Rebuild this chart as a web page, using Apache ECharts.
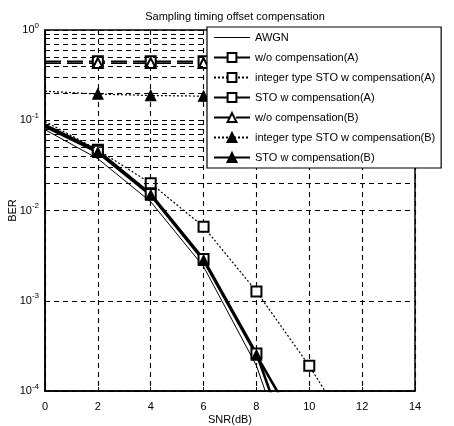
<!DOCTYPE html>
<html>
<head>
<meta charset="utf-8">
<script src="https://cdn.jsdelivr.net/npm/echarts@6/dist/echarts.min.js"></script>
<style>html,body{margin:0;padding:0;background:#fff;}#c{width:454px;height:426px;}</style>
</head>
<body>
<div id="c"></div>
<script>
var titleText = 'Sampling timing offset compensation';
var xTicks = [0, 2, 4, 6, 8, 10, 12, 14];
var snr = [0, 2, 4, 6, 8, 10, 12, 14];
var awgn = [0.0786, 0.0375, 0.0125, 0.00239, 0.000191, 0.0000039];
var woCompA = [0.45, 0.45, 0.45, 0.45, 0.45, 0.45, 0.45, 0.45];
var intStoA = [0.097, 0.047, 0.020, 0.0066, 0.00127, 0.00019, 0.000022];
var stoCompA = [0.089, 0.046, 0.0152, 0.0029, 0.00026, 0.000006];
var woCompB = [0.43, 0.43, 0.43, 0.43, 0.43, 0.43, 0.43, 0.43];
var intStoB = [0.21, 0.195, 0.188, 0.185, 0.185, 0.185, 0.185, 0.185];
var stoCompB = [0.085, 0.044, 0.0148, 0.0028, 0.00025, 0.000024];
var minorGrid = [];
[0.0001, 0.001, 0.01, 0.1].forEach(function (d) {
  for (var k = 2; k <= 9; k++) minorGrid.push(d * k);
});

function pts(ys) {
  return ys.map(function (y, i) {
    var item = { value: [snr[i], y] };
    if (i === 0) item.symbol = 'none';
    return item;
  });
}

var chart = echarts.init(document.getElementById('c'), null, { renderer: 'canvas' });
var font = 'Liberation Sans, Arial, sans-serif';
function mk(name, data, lineType, width, symbol, size) {
  return {
    name: name, type: 'line', data: data, symbol: symbol, symbolSize: size,
    showSymbol: symbol !== 'none',
    lineStyle: { color: '#000', width: width, type: lineType },
    itemStyle: { color: '#000', borderColor: '#000', borderWidth: 1.3 },
    emphasis: { disabled: true }, animation: false, clip: true, z: 3
  };
}

var series = [
  mk('AWGN', awgn.map(function (y, i) { return [snr[i], y]; }), 'solid', 1, 'none', 0),
  mk('w/o compensation(A)', pts(woCompA), [16, 6], 1.6, 'emptyRect', 10),
  mk('integer type STO w compensation(A)', pts(intStoA), [2, 2], 1.2, 'emptyRect', 10),
  mk('STO w compensation(A)', pts(stoCompA), 'solid', 2.6, 'emptyRect', 10),
  mk('w/o compensation(B)', pts(woCompB), [16, 6], 1.6, 'emptyTriangle', 10),
  mk('integer type STO w compensation(B)', pts(intStoB), [2, 2], 1.2, 'triangle', 10),
  mk('STO w compensation(B)', pts(stoCompB), 'solid', 2.6, 'triangle', 10)
];
series.push({
  type: 'line', data: [], silent: true, animation: false,
  markLine: {
    silent: true, symbol: ['none', 'none'], animation: false,
    label: { show: false },
    lineStyle: { color: '#000', type: [5, 4], width: 1.1 },
    data: minorGrid.map(function (v) { return { yAxis: v }; })
  }
});

var legendData = series.slice(0, 7).map(function (s) { return { name: s.name }; });
legendData[0].icon = 'path://M0 0h36v1H0z';
legendData[0].itemStyle = { borderWidth: 0 };

chart.setOption({
  backgroundColor: '#fff',
  textStyle: { fontFamily: font },
  title: {
    text: titleText, left: 230, top: 6, textAlign: 'center',
    textStyle: { fontSize: 11, fontWeight: 'normal', color: '#000', fontFamily: font }
  },
  grid: { left: 45, right: 39, top: 30, bottom: 35, containLabel: false, outerBoundsMode: 'none',
    show: true, borderColor: '#000', borderWidth: 1.5, backgroundColor: 'transparent' },
  legend: {
    orient: 'vertical', left: 207, top: 27, padding: [5, 6, 5, 6],
    backgroundColor: '#fff', borderColor: '#000', borderWidth: 1.2,
    itemWidth: 36, itemHeight: 11, itemGap: 9,
    textStyle: { fontSize: 11, color: '#000', fontFamily: font },
    data: legendData,
    z: 10
  },
  xAxis: {
    type: 'value', min: 0, max: 14, interval: 2,
    name: 'SNR(dB)', nameLocation: 'middle', nameGap: 23, nameMoveOverlap: false,
    nameTextStyle: { fontSize: 11, color: '#000', fontFamily: font },
    axisLine: { show: true, onZero: false, lineStyle: { color: '#000', width: 1.5 } },
    axisTick: { show: true, inside: true, length: 4, lineStyle: { color: '#000' } },
    axisLabel: { fontSize: 11, color: '#000', margin: 10, fontFamily: font,
      formatter: function (v) { return xTicks.indexOf(v) >= 0 ? String(v) : ''; } },
    splitLine: { show: true, lineStyle: { color: '#000', type: [5, 4], width: 1.1 } }
  },
  yAxis: {
    type: 'log', logBase: 10, min: 0.0001, max: 1,
    name: 'BER', nameLocation: 'middle', nameGap: 27, nameRotate: 90, nameMoveOverlap: false,
    nameTextStyle: { fontSize: 11, color: '#000', fontFamily: font },
    axisLine: { show: true, lineStyle: { color: '#000', width: 1.5 } },
    axisTick: { show: true, inside: true, length: 4, lineStyle: { color: '#000' } },
    axisLabel: {
      color: '#000', margin: 6, fontFamily: font,
      formatter: function (v) { return '10{s|' + Math.round(Math.log10(v)) + '}'; },
      rich: { s: { fontSize: 8, verticalAlign: 'top', padding: [0, 0, 9, 0], color: '#000', fontFamily: font } },
      fontSize: 11
    },
    splitLine: { show: true, lineStyle: { color: '#000', type: [5, 4], width: 1.1 } }
  },
  series: series
});
</script>
</body>
</html>
